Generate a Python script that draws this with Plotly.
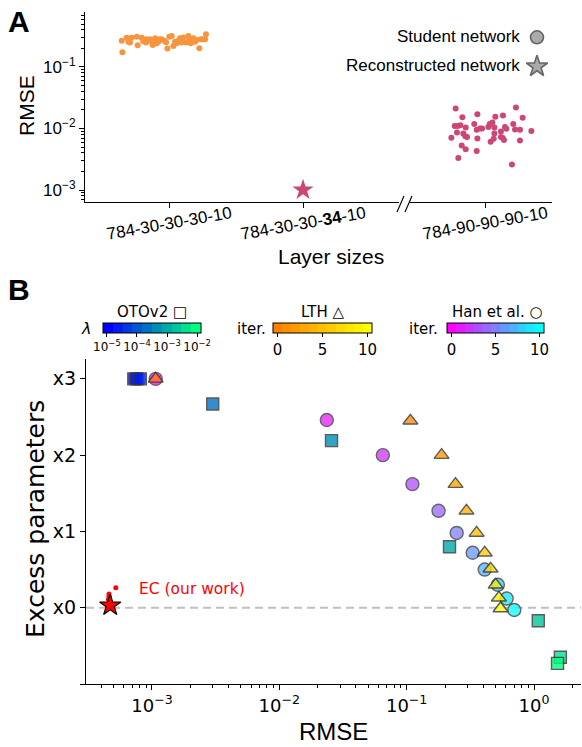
import plotly.graph_objects as go

W, H = 582, 747

# ---------------- Panel A data ----------------
arch_labels = ["784-30-30-30-10", "784-30-30-<b>34</b>-10", "784-90-90-90-10"]
arch_pos = [0, 1, 2.358]

small_offset = [-0.353, -0.348, -0.316, -0.303, -0.291, -0.279, -0.241, -0.234, -0.204, -0.192,
                -0.172, -0.167, -0.142, -0.129, -0.122, -0.104, -0.092, -0.080, -0.072, -0.055,
                -0.035, -0.022, -0.012, 0.002, 0.020, 0.032, 0.045, 0.057, 0.070, 0.082,
                0.095, 0.107, 0.127, 0.144, 0.152, 0.162, 0.182, 0.194, 0.206, 0.226,
                0.236, 0.251, 0.269, 0.276]
small_rmse = [0.268, 0.173, 0.300, 0.258, 0.249, 0.300, 0.311, 0.225, 0.300, 0.261,
              0.249, 0.282, 0.282, 0.258, 0.228, 0.292, 0.243, 0.258, 0.282, 0.282,
              0.268, 0.252, 0.199, 0.311, 0.319, 0.219, 0.258, 0.243, 0.268, 0.292,
              0.249, 0.303, 0.249, 0.319, 0.275, 0.243, 0.292, 0.258, 0.275, 0.201,
              0.282, 0.282, 0.282, 0.340]

large_offset = [-0.219, 0.231, -0.169, -0.057, 0.077, 0.134, 0.281, -0.204, -0.184, -0.080,
                0.035, 0.055, 0.211, -0.144, -0.037, 0.025, 0.070, 0.149, 0.159, 0.261,
                0.346, -0.209, -0.162, -0.062, 0.119, 0.224, -0.251, -0.147, -0.134, -0.057,
                0.065, 0.132, 0.142, 0.119, 0.261, 0.042, -0.174, -0.144, -0.062, -0.199,
                0.201, -0.022, 0.070, -0.226]
large_rmse = [0.0211, 0.0219, 0.0153, 0.0171, 0.0155, 0.0163, 0.0149, 0.0110, 0.0113, 0.0118,
              0.0118, 0.0125, 0.0118, 0.0104, 0.0100, 0.0106, 0.0104, 0.0106, 0.0099, 0.0095,
              0.0091, 0.0086, 0.0083, 0.0095, 0.0089, 0.0096, 0.0071, 0.0075, 0.0073, 0.0069,
              0.0068, 0.0070, 0.0065, 0.0073, 0.0064, 0.0061, 0.0053, 0.0046, 0.0043, 0.0033,
              0.0026, 0.0100, 0.0083, 0.0110]

reconstructed_rmse = [1.0e-3]

# ---------------- Panel B data ----------------
oto_rmse = [7.2e-4, 7.6e-4, 8.1e-4, 3.0e-3, 0.0257, 0.217, 1.08, 1.61, 1.53]
oto_excess = [3.0, 3.0, 3.0, 2.67, 2.19, 0.80, -0.17, -0.65, -0.73]
oto_loglambda = [-4.85, -4.75, -4.65, -3.8, -3.5, -3.0, -2.65, -2.25, -2.05]

han_iter = [0, 1, 2, 3, 4, 5, 6, 7, 8, 9, 10]
han_rmse = [1.07e-3, 0.0236, 0.065, 0.111, 0.178, 0.247, 0.33, 0.41, 0.52, 0.61, 0.70]
han_excess = [3.0, 2.46, 2.0, 1.62, 1.27, 0.98, 0.72, 0.50, 0.30, 0.12, -0.03]

lth_iter = [0, 1, 2, 3, 4, 5, 6, 7, 8, 9, 10]
lth_rmse = [1.07e-3, 0.107, 0.188, 0.242, 0.295, 0.354, 0.41, 0.456, 0.50, 0.53, 0.546]
lth_excess = [3.0, 2.45, 2.0, 1.62, 1.27, 0.98, 0.72, 0.51, 0.30, 0.13, -0.01]

ec_rmse = [5.2e-4, 4.6e-4, 4.6e-4, 4.55e-4, 4.6e-4]
ec_excess = [0.26, 0.18, 0.15, 0.11, 0.07]
ec_star_rmse = [4.7e-4]
ec_star_excess = [0.03]

lambda_ticks = [-5, -4, -3, -2]
iter_ticks = [0, 5, 10]


def stepped(c0, c1, n):
    scale = []
    for i in range(n):
        t = i / (n - 1)
        c = tuple(round(c0[k] + (c1[k] - c0[k]) * t) for k in range(3))
        col = "rgb(%d,%d,%d)" % c
        scale.append([i / n, col])
        scale.append([(i + 1) / n, col])
    return scale


winter = stepped((0, 0, 255), (0, 255, 128), 10)
lth_cs = stepped((255, 128, 0), (255, 255, 0), 11)
han_cs = stepped((255, 0, 255), (0, 255, 255), 11)

fA = "Liberation Sans, Arial, sans-serif"
fB = "DejaVu Sans, sans-serif"

fig = go.Figure()

# ---- Panel A traces ----
orange = "#f7953f"
pink = "#cc4778"
fig.add_trace(go.Scatter(x=[arch_pos[0] + o for o in small_offset], y=small_rmse, mode="markers",
                         marker=dict(color=orange, size=6, line=dict(width=0)),
                         xaxis="x", yaxis="y", showlegend=False))
fig.add_trace(go.Scatter(x=[arch_pos[2] + o for o in large_offset], y=large_rmse, mode="markers",
                         marker=dict(color=pink, size=6, line=dict(width=0)),
                         xaxis="x", yaxis="y", showlegend=False))
fig.add_trace(go.Scatter(x=[arch_pos[1]], y=reconstructed_rmse, mode="markers",
                         marker=dict(color=pink, size=16, symbol="star", line=dict(width=0)),
                         xaxis="x", yaxis="y", showlegend=False))
# legend glyphs (panel A)
fig.add_trace(go.Scatter(x=[2.746], y=[0.304], mode="markers",
                         marker=dict(color="#aaaaaa", size=13, symbol="circle",
                                     line=dict(color="#666666", width=1.6)),
                         xaxis="x", yaxis="y", showlegend=False, cliponaxis=False))
fig.add_trace(go.Scatter(x=[2.746], y=[0.102], mode="markers",
                         marker=dict(color="#aaaaaa", size=16, symbol="star",
                                     line=dict(color="#666666", width=1.6)),
                         xaxis="x", yaxis="y", showlegend=False, cliponaxis=False))

# ---- Panel B traces ----
fig.add_trace(go.Scatter(x=ec_rmse, y=ec_excess, mode="markers",
                         marker=dict(color="red", size=5, line=dict(width=0)),
                         xaxis="x2", yaxis="y2", showlegend=False))
fig.add_trace(go.Scatter(x=ec_star_rmse, y=ec_star_excess, mode="markers",
                         marker=dict(color="red", size=16, symbol="star",
                                     line=dict(color="black", width=1.1)),
                         xaxis="x2", yaxis="y2", showlegend=False))

edge = dict(color="#333333", width=1.4)
fig.add_trace(go.Scatter(
    x=oto_rmse, y=oto_excess, mode="markers", xaxis="x2", yaxis="y2", showlegend=False,
    marker=dict(symbol="square", size=12, color=oto_loglambda, colorscale=winter,
                cmin=-5.13, cmax=-1.87, opacity=0.8, line=edge, showscale=True,
                colorbar=dict(orientation="h", x=152 / W, xanchor="center", y=1 - 323 / H,
                              yanchor="top", len=98 / W, lenmode="fraction", thickness=10,
                              xpad=0, ypad=0, outlinewidth=1, outlinecolor="black",
                              tickvals=lambda_ticks,
                              ticktext=["10<sup>−%d</sup>" % (-v) for v in lambda_ticks],
                              ticks="outside", ticklen=4, tickcolor="black",
                              tickfont=dict(family=fB, size=12, color="black")))))
fig.add_trace(go.Scatter(
    x=han_rmse, y=han_excess, mode="markers", xaxis="x2", yaxis="y2", showlegend=False,
    marker=dict(symbol="circle", size=13, color=han_iter, colorscale=han_cs,
                cmin=-0.5, cmax=10.5, opacity=0.75, line=edge, showscale=True,
                colorbar=dict(orientation="h", x=495.5 / W, xanchor="center", y=1 - 323 / H,
                              yanchor="top", len=97 / W, lenmode="fraction", thickness=10,
                              xpad=0, ypad=0, outlinewidth=1, outlinecolor="black",
                              tickvals=iter_ticks, ticks="outside", ticklen=4, tickcolor="black",
                              tickfont=dict(family=fB, size=15, color="black")))))
fig.add_trace(go.Scatter(
    x=lth_rmse, y=lth_excess, mode="markers", xaxis="x2", yaxis="y2", showlegend=False,
    marker=dict(symbol="triangle-up", size=13, color=lth_iter, colorscale=lth_cs,
                cmin=-0.5, cmax=10.5, opacity=0.8, line=edge, showscale=True,
                colorbar=dict(orientation="h", x=322.5 / W, xanchor="center", y=1 - 323 / H,
                              yanchor="top", len=99 / W, lenmode="fraction", thickness=10,
                              xpad=0, ypad=0, outlinewidth=1, outlinecolor="black",
                              tickvals=iter_ticks, ticks="outside", ticklen=4, tickcolor="black",
                              tickfont=dict(family=fB, size=15, color="black")))))


def minor_vals(lo, hi):
    out = []
    for d in range(lo, hi):
        for m in range(2, 10):
            out.append(m * 10 ** d)
    return out


axis_common = dict(showgrid=False, zeroline=False, showline=True, linecolor="black",
                   linewidth=1.1, ticks="outside", tickcolor="black", tickwidth=1.1,
                   automargin=False)

fig.update_layout(
    width=W, height=H, margin=dict(l=0, r=0, t=0, b=0),
    paper_bgcolor="white", plot_bgcolor="white",
    xaxis=dict(domain=[85 / W, 552 / W], anchor="y", range=[-0.627, 2.858],
               tickvals=arch_pos, ticktext=["", "", ""], ticklen=5, **axis_common),
    yaxis=dict(domain=[1 - 202 / H, 1 - 12 / H], anchor="x", type="log",
               range=[-3.195, -0.106], tickvals=[1e-3, 1e-2, 1e-1],
               ticktext=["10<sup>−3</sup>", "10<sup>−2</sup>", "10<sup>−1</sup>"], ticklen=5,
               tickfont=dict(family=fA, size=17, color="black"),
               minor=dict(tickvals=minor_vals(-4, 0), ticks="outside", ticklen=3,
                          tickcolor="black", tickwidth=0.8),
               **axis_common),
    xaxis2=dict(domain=[86 / W, 581 / W], anchor="y2", type="log", range=[-3.518, 0.369],
                tickvals=[1e-3, 1e-2, 1e-1, 1], ticklen=5,
                ticktext=["10<sup>−3</sup>", "10<sup>−2</sup>", "10<sup>−1</sup>", "10<sup>0</sup>"],
                tickfont=dict(family=fB, size=18, color="black"),
                minor=dict(tickvals=minor_vals(-4, 1), ticks="outside", ticklen=3,
                           tickcolor="black", tickwidth=0.8),
                **axis_common),
    yaxis2=dict(domain=[1 - 684 / H, 1 - 359 / H], anchor="x2", range=[-1, 3.26],
                tickvals=[-1, 0, 1, 2, 3], ticktext=["", "x0", "x1", "x2", "x3"], ticklen=5,
                tickfont=dict(family=fB, size=19, color="black"), **axis_common),
)

shapes = [
    dict(type="line", xref="x2 domain", x0=0, x1=1, yref="y2", y0=0, y1=0, layer="below",
         line=dict(color="#c0c0c0", width=2, dash="8px,5px")),
    dict(type="line", xref="paper", yref="paper", x0=399 / W, x1=410 / W, y0=1 - 202 / H,
         y1=1 - 202 / H, line=dict(color="white", width=4), layer="above"),
    dict(type="line", xref="paper", yref="paper", x0=397 / W, x1=404 / W, y0=1 - 212 / H,
         y1=1 - 196 / H, line=dict(color="black", width=1.1), layer="above"),
    dict(type="line", xref="paper", yref="paper", x0=405 / W, x1=412 / W, y0=1 - 212 / H,
         y1=1 - 196 / H, line=dict(color="black", width=1.1), layer="above"),
]
fig.update_layout(shapes=shapes)


def ann(text, x, y, size, family, xanchor="center", yanchor="middle", color="black",
        angle=0):
    return dict(text=text, x=x / W, y=1 - y / H, xref="paper", yref="paper",
                showarrow=False, xanchor=xanchor, yanchor=yanchor, textangle=angle,
                font=dict(size=size, family=family, color=color))


annotations = [
    ann("<b>A</b>", 19, 21, 30, fA),
    ann("<b>B</b>", 19, 290, 30, fA),
    ann("RMSE", 27, 106, 21, fA, angle=-90),
    ann("Layer sizes", 331, 256, 21, fA),
    ann("Student network", 522, 37, 17, fA, xanchor="right"),
    ann("Reconstructed network", 522, 66, 17, fA, xanchor="right"),
    ann("Excess parameters", 35, 519, 25, fB, angle=-90),
    ann("RMSE", 333, 731, 24, fA),
    ann("EC (our work)", 137, 589, 15.5, fB, xanchor="left", color="red"),
    ann("OTOv2 □", 152, 312, 15, fB),
    ann("LTH △", 323, 312, 15, fB),
    ann("Han et al. ○", 497, 312, 15, fB),
    ann("<i>λ</i>", 86, 329, 16, fB),
    ann("iter.", 251, 329, 15, fB),
    ann("iter.", 423, 329, 15, fB),
]
# category tick labels of panel A, rotated about their centre
for pos, lab in zip(arch_pos, arch_labels):
    annotations.append(dict(text=lab, x=pos, xref="x", y=1 - 224 / H, yref="paper",
                            showarrow=False, xanchor="center", yanchor="middle", textangle=-10,
                            font=dict(size=17, family=fA, color="black")))
fig.update_layout(annotations=annotations)

fig.write_html("out.html", config={"displayModeBar": False},
               post_script="document.body.style.margin='0';document.body.style.overflow='hidden';")
